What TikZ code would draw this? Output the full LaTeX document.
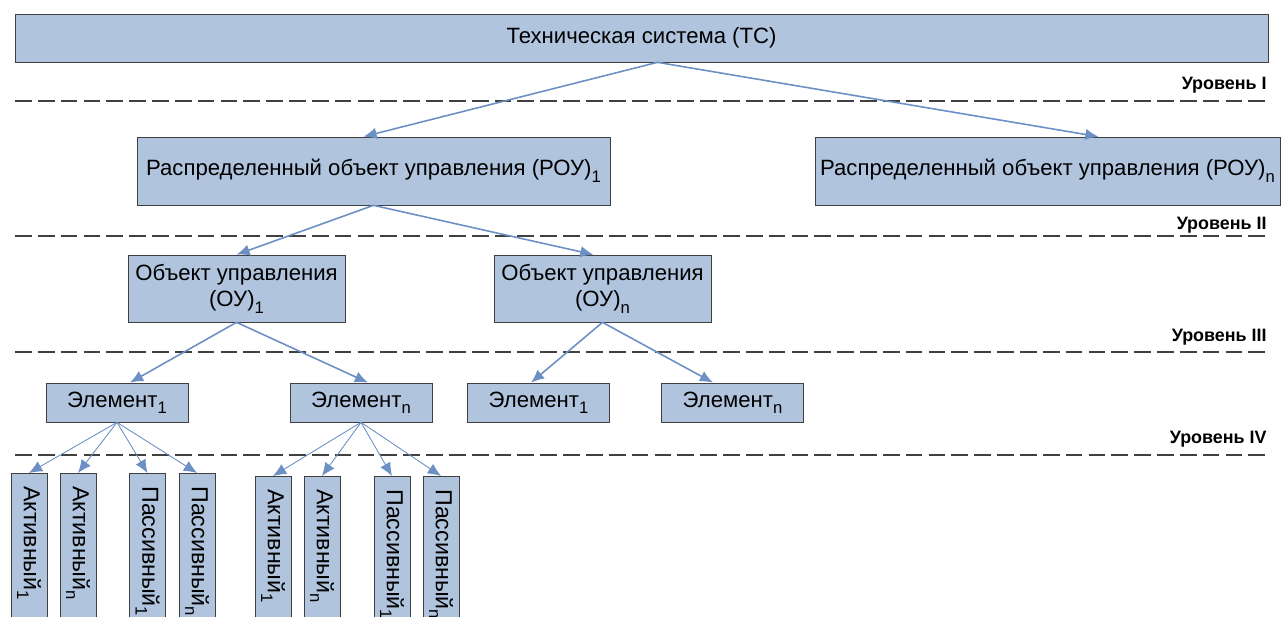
\documentclass[tikz,border=0pt]{standalone}
\usepackage{fontspec}
\setmainfont{Liberation Sans}
\usetikzlibrary{arrows.meta}
\definecolor{boxfill}{RGB}{176,196,222}
\definecolor{boxline}{RGB}{64,64,64}
\definecolor{arrowblue}{RGB}{108,143,196}
\newcommand{\idx}[1]{\raisebox{-0.55ex}{\fontsize{9.5}{10}\selectfont #1}}

\begin{document}
\begin{tikzpicture}
  [x=0.02cm, y=-0.02cm,
   every node/.style={font=\fontsize{12.6}{15}\selectfont},
   block/.style={draw=boxline, fill=boxfill, inner sep=0pt, align=center},
   rou/.style={block, minimum height=1.36cm},
   ou/.style={block, minimum width=4.34cm, minimum height=1.34cm},
   elem/.style={block, minimum width=2.84cm, minimum height=0.78cm},
   vbox/.style={block, rotate=-90, anchor=west, minimum width=3.4cm,
     minimum height=0.72cm, inner xsep=0.26cm, text width=2.88cm, align=left,
     font=\fontsize{13.2}{15}\selectfont},
   connect/.style={-{Latex[length=7.5pt,width=6.5pt]}, draw=arrowblue, line width=0.9pt},
   thin connect/.style={connect, line width=0.5pt},
   level/.style={dash pattern=on 9.5pt off 3.5pt, line width=1.1pt, draw=black!75},
   levellabel/.style={font=\bfseries\fontsize{10.2}{12}\selectfont, anchor=base east, inner sep=0pt}]
  \useasboundingbox (0,0) rectangle (1285,617);
  \clip (0,0) rectangle (1285,617);

  % level separators
  \foreach \y/\lab/\ly in {101/I/90, 236/II/230, 352/III/342, 455/IV/444} {
    \draw[level] (15,\y) -- (1268,\y);
    \node[levellabel] (lvl\lab) at (1267,\ly) {Уровень \lab};
  }

  % level I
  \node[block, minimum width=25.06cm, minimum height=0.96cm] (tc) at (641.5,38)
    {Техническая система (ТС)};

  % level II
  \node[rou, minimum width=9.46cm] (rou1) at (373.5,171)
    {Распределенный объект управления (РОУ)\idx{1}};
  \node[rou, minimum width=9.3cm] (rou2) at (1047.5,171)
    {Распределенный объект управления (РОУ)\idx{n}};

  % level III
  \node[ou] (ou1) at (236.5,288.5) {Объект управления\\(ОУ)\idx{1}};
  \node[ou] (ou2) at (602.5,288.5) {Объект управления\\(ОУ)\idx{n}};

  % level IV
  \node[elem] (el11) at (117,402.5) {Элемент\idx{1}};
  \node[elem] (el1n) at (361,402.5) {Элемент\idx{n}};
  \node[elem] (el21) at (538.5,402.5) {Элемент\idx{1}};
  \node[elem] (el2n) at (732.5,402.5) {Элемент\idx{n}};

  % parts of the elements
  \foreach \name/\x/\y/\txt in {a11/29/473/Активный\idx{1},
      a1n/78/473/Активный\idx{n}, p11/147.5/473/Пассивный\idx{1},
      p1n/197/473/Пассивный\idx{n}, a21/273/476/Активный\idx{1},
      a2n/322/476/Активный\idx{n}, p21/392/476/Пассивный\idx{1},
      p2n/441/476/Пассивный\idx{n}}
    \node[vbox] (\name) at (\x,\y) {\txt};

  \draw[connect] ([xshift=0.32cm]tc.south) -- ([xshift=-0.2cm]rou1.north);
  \draw[connect] ([xshift=0.32cm]tc.south) -- ([xshift=1.02cm]rou2.north);
  \draw[connect] (rou1.south) -- (ou1.north);
  \draw[connect] (rou1.south) -- ([xshift=-0.18cm]ou2.north);
  \draw[connect] (ou1.south) -- ([xshift=0.26cm]el11.north);
  \draw[connect] (ou1.south) -- ([xshift=0.14cm]el1n.north);
  \draw[connect] (ou2.south) -- ([xshift=-0.15cm]el21.north);
  \draw[connect] (ou2.south) -- ([xshift=-0.39cm]el2n.north);
  \foreach \name in {a11,a1n,p11,p1n}
    \draw[thin connect] (el11.south) -- (\name.west);
  \foreach \name in {a21,a2n,p21,p2n}
    \draw[thin connect] (el1n.south) -- (\name.west);
\end{tikzpicture}
\end{document}
